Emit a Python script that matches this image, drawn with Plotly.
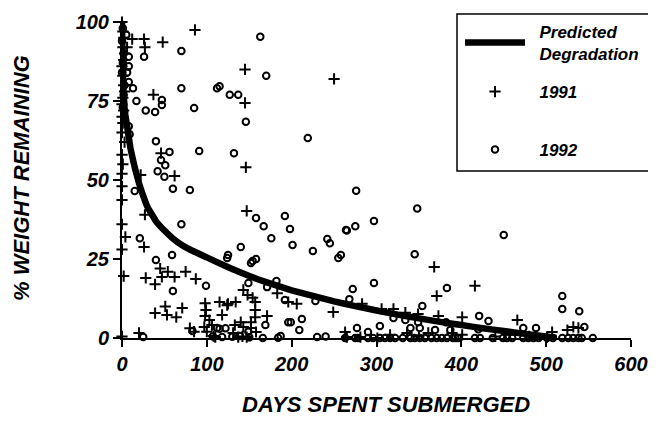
import plotly.graph_objects as go

# Predicted degradation curve
pred_days = [0, 0.5, 1, 2, 3, 4, 6, 8, 10, 15, 20, 25, 30, 40, 50, 60, 70, 80, 100, 120, 140, 160,
             180, 200, 225, 250, 275, 300, 325, 350, 375, 400, 425, 450, 475, 500, 512]
pred_vals = [100, 90, 84, 77, 73, 70.5, 67, 63.5, 60, 54, 49, 45, 41.5, 37, 34,
             31.5, 29.5, 28, 25.5, 23, 20.7, 18.6, 16.8, 15.1, 13.3, 11.6, 10.1, 8.7, 7.4, 6.2,
             5.1, 4.1, 3.1, 2.2, 1.3, 0.5, 0]

# 1991 observations (crosses)
d1991 = [0, 1, 2, 1, 3, 2, 0, 4, 1, 2, 3, 1, 0, 2, 0, 1, 0, 3, 0, 1, 0, 0, 0, 0, 4, 0, 2, 0,
         12, 26, 27, 48, 86, 6, 37, 145, 145, 250, 146, 46, 62, 22, 147, 27, 26,
         28, 39, 45, 47, 54, 62, 75, 87, 39, 51, 53, 64, 71, 80, 85, 20,
         98, 99, 98, 115, 124, 118, 97, 103, 106, 108, 110, 100,
         143, 148, 154, 157, 134, 125, 157, 171, 196, 206, 183, 249, 140, 143, 133, 152, 157, 152, 158,
         137, 131, 147, 263, 142,
         283, 306, 320, 334, 349, 373, 265, 281, 301, 316, 336, 361, 389, 350, 368, 371,
         416, 401, 466, 525, 532, 507, 501, 401, 538, 440, 480]
v1991 = [100, 97, 95, 92, 90, 88, 86, 85, 83, 80, 78, 76, 74, 72, 70, 68, 65, 62, 58, 55, 52, 48, 43.7, 36, 32, 28, 19.6, 0.5,
         94.6, 94.6, 92, 93.6, 97.5, 92, 77, 85, 74.4, 82, 54, 58.5, 51.3, 51.6, 40.2, 39, 28.8,
         19, 17, 22, 19.3, 21, 19.3, 21, 18.7, 7.9, 10, 7.3, 6.6, 9.5, 3.1, 2, 1.6,
         11, 8.9, 7, 11.4, 10.4, 7.3, 3.5, 5.7, 4.1, 0.6, 0.3, 2,
         15.2, 13.6, 12.7, 11.4, 11.4, 10.8, 8.9, 7, 11.4, 10.8, 14.2, 8.2, 5, 3.5, 4.1, 5, 6.6, 3.2, 1.9,
         0.3, 1.6, 0.3, 1.9, 0.5,
         10.8, 9.2, 9.2, 8, 7.6, 7, 0.3, 0.3, 0, 1, 1.6, 1.6, 1.6, 0.5, 22.5, 13.3,
         16.5, 6.6, 5.7, 2.5, 3.5, 1.9, 0.3, 1, 3.2, 0.5, 0.5]

# 1992 observations (open circles)
d1992 = [1, 0, 2, 1, 0, 3, 2, 1,
         5, 8, 26, 70, 8, 6, 8, 13, 17, 28, 39, 47, 47, 70, 85, 112, 115, 127, 8, 9,
         163, 170, 137, 146, 219, 132,
         40, 56, 91, 46, 51, 42, 50, 60, 80, 15, 70, 21,
         40, 59, 60, 99, 124, 125, 140, 152, 154, 158, 149, 182, 171, 192, 228, 196, 199, 212, 209, 169,
         122, 25, 83, 112, 115, 139, 149, 184, 187, 166,
         158, 167, 176, 192, 198, 201, 225, 242, 245, 255, 258, 264,
         276, 348, 265, 275, 297, 345, 272, 297, 383, 354, 268,
         263, 275, 278, 290, 296, 304, 310, 316, 322, 331, 340, 345, 351, 357, 365, 371, 377, 383, 390, 396,
         277, 290, 304, 320, 334, 340, 349, 351, 369, 382, 387,
         450, 421, 432, 473, 488, 519, 519, 539, 545, 420,
         393, 416, 422, 437, 449, 454, 460, 473, 479, 485, 491, 501, 508, 519, 526, 532, 538, 542, 555,
         107, 118, 130, 150, 230, 240]
v1992 = [98, 94, 90, 87, 84, 80, 77, 73,
         96, 89, 89, 90.8, 86, 84, 81, 79, 75, 72, 71.5, 75.3, 73.7, 79, 72.8, 79, 79.7, 77, 67, 64.5,
         95.3, 83, 77, 68.4, 63.3, 58.5,
         62.3, 58.9, 59.2, 56.3, 54.7, 52.8, 51, 47.2, 46.8, 46.5, 36, 31.6,
         24.7, 26.3, 14.9, 16.5, 25.3, 26.3, 28.8, 23.7, 24.4, 25, 17.4, 18, 16.1, 12, 11.7, 5, 5, 6, 2.5, 4.1,
         3.1, 0.3, 2.2, 3.2, 2.9, 0.6, 2, 0.1, 0.6, 0,
         38, 35.4, 31.6, 38.6, 34.5, 29.4, 27.5, 31.3, 30, 25.3, 26.3, 34.2,
         46.6, 41, 34, 35.4, 37, 26.5, 15.5, 17.4, 15.8, 10.1, 12.3,
         0, 0, 0, 0, 0, 0, 0, 0, 0, 0, 0, 0, 0, 0, 0, 0, 0, 0, 0, 0,
         3.2, 1.9, 3.8, 6.3, 5.7, 3.2, 5, 3.2, 2.5, 5, 2.5,
         32.6, 7, 5.4, 3.2, 3.2, 13.3, 9.2, 8.5, 3.5, 2.8,
         0, 0, 0, 0, 0, 0, 0, 0, 0, 0, 0, 0, 0, 0, 0, 0, 0, 0, 0,
         0.5, 0.3, 0.4, 0.2, 0.3, 0.5]

FONT = "Liberation Sans, Arial, Helvetica, sans-serif"
OFF = 8  # page body margin

# target page-pixel positions of the plot area
PX0, PX1 = 122, 631   # x = 0 .. 600
PY1, PY0 = 22, 338    # y = 100 .. 0
W, H = 656, 426
L, T = PX0 - OFF, PY1 - OFF
R = W - (PX1 - OFF)
B = H - (PY0 - OFF)
pw, ph = PX1 - PX0, PY0 - PY1

def px_x(p):
    return (p - PX0) / pw

def px_y(p):
    return (PY0 - p) / ph

legfont = dict(family=FONT, size=17, color="black", weight="bold", style="italic")
PAD = "\u00a0\u00a0"

fig = go.Figure()
fig.add_trace(go.Scatter(
    x=pred_days, y=pred_vals, mode="lines", name=PAD + "Predicted<br>" + PAD + "Degradation",
    line=dict(color="black", width=6.5, shape="spline", smoothing=0.3),
    legend="legend", cliponaxis=False))
fig.add_trace(go.Scatter(
    x=d1991, y=v1991, mode="markers", name=PAD + "1991",
    marker=dict(symbol="cross-thin-open", size=8, color="black",
                line=dict(color="black", width=2)),
    legend="legend2", cliponaxis=False))
fig.add_trace(go.Scatter(
    x=d1992, y=v1992, mode="markers", name=PAD + "1992",
    marker=dict(symbol="circle-open", size=6.5, color="black",
                line=dict(color="black", width=2)),
    legend="legend3", cliponaxis=False))

fig.add_shape(type="rect", xref="paper", yref="paper",
              x0=px_x(457), x1=px_x(690), y0=px_y(171), y1=px_y(14),
              line=dict(color="black", width=1.5), fillcolor="rgba(0,0,0,0)")

tickfont = dict(family=FONT, size=20, color="black", weight="bold", style="italic")
titlefont = dict(family=FONT, size=22, color="black", weight="bold", style="italic")

fig.add_annotation(text="DAYS SPENT SUBMERGED", xref="paper", yref="paper",
                   x=px_x(386), y=px_y(404), showarrow=False,
                   xanchor="center", yanchor="middle", font=titlefont)
fig.add_annotation(text="% WEIGHT REMAINING", xref="paper", yref="paper",
                   x=px_x(21), y=px_y(178), showarrow=False, textangle=-90,
                   xanchor="center", yanchor="middle", font=titlefont)

leg_common = dict(xanchor="left", yanchor="middle", bgcolor="rgba(0,0,0,0)",
                  borderwidth=0, font=legfont, itemwidth=60)

fig.update_layout(
    width=W, height=H,
    margin=dict(l=L, r=R, t=T, b=B, autoexpand=False),
    plot_bgcolor="white", paper_bgcolor="white",
    showlegend=True,
    legend=dict(x=px_x(460), y=px_y(43), **leg_common),
    legend2=dict(x=px_x(460), y=px_y(92), **leg_common),
    legend3=dict(x=px_x(460), y=px_y(150), **leg_common),
    xaxis=dict(range=[0, 600], tickvals=[0, 100, 200, 300, 400, 500, 600],
               showgrid=False, zeroline=False, showline=True, linecolor="black", linewidth=2,
               ticks="outside", ticklen=7, tickwidth=2, tickcolor="black",
               tickfont=tickfont, fixedrange=True),
    yaxis=dict(range=[0, 100], tickvals=[0, 25, 50, 75, 100],
               showgrid=False, zeroline=False, showline=True, linecolor="black", linewidth=2,
               ticks="outside", ticklen=7, tickwidth=2, tickcolor="black",
               tickfont=tickfont, fixedrange=True),
)

fig.write_html("out.html")
